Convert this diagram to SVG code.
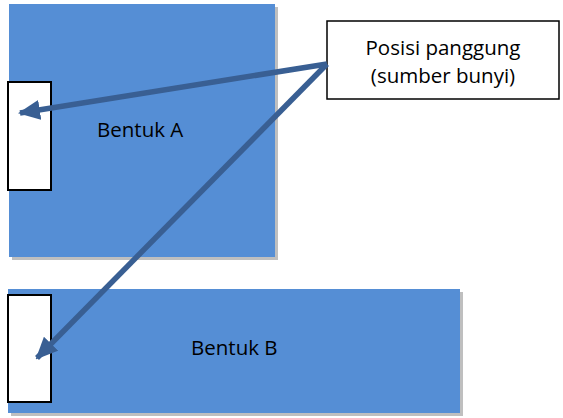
<svg xmlns="http://www.w3.org/2000/svg" width="563" height="418" viewBox="0 0 563 418">
<style>
.shape{fill:#558ED5}
.shadow{fill:#BFBFBF}
.stage{fill:#FFFFFF;stroke:#000000;stroke-width:2}
.box{fill:#FFFFFF;stroke:#000000;stroke-width:1.5}
.lbl{font-family:"Open Sans","Liberation Sans",sans-serif;font-size:20.5px;fill:#000000}
.conn{stroke:#395F93;stroke-width:5.5;fill:none}
</style>
<defs>
<marker id="ah" markerUnits="userSpaceOnUse" markerWidth="22" markerHeight="20" refX="20" refY="10" orient="auto">
<path d="M0,0 L22,10 L0,20 Z" fill="#395F93"/>
</marker>
</defs>
<rect width="563" height="418" fill="#FFFFFF"/>
<g id="bentukA">
<rect class="shadow" x="12" y="7" width="266" height="253"/>
<rect class="shape" x="9" y="4" width="266" height="253"/>
<rect class="stage" x="8" y="82" width="43" height="108"/>
<text class="lbl" x="97" y="137">Bentuk A</text>
</g>
<g id="bentukB">
<rect class="shadow" x="11" y="292" width="452" height="124"/>
<rect class="shape" x="8" y="289" width="452" height="124"/>
<rect class="stage" x="8" y="295" width="43" height="107"/>
<text class="lbl" x="191" y="355">Bentuk B</text>
</g>
<g id="callout">
<rect class="box" x="327" y="21" width="232" height="78"/>
<text class="lbl" x="443" y="55" text-anchor="middle">Posisi panggung</text>
<text class="lbl" x="443" y="83" text-anchor="middle">(sumber bunyi)</text>
</g>
<g id="connectors">
<line class="conn" x1="327" y1="64" x2="20" y2="113" marker-end="url(#ah)"/>
<line class="conn" x1="327" y1="64" x2="37" y2="358" marker-end="url(#ah)"/>
</g>
</svg>
